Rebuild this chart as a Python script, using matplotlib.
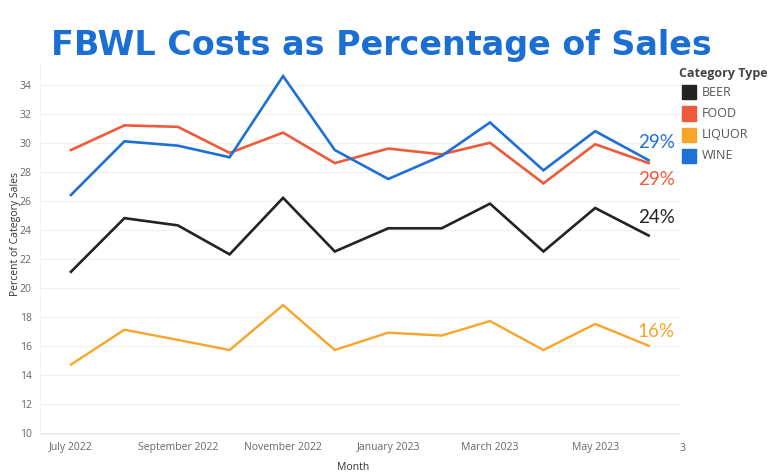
import matplotlib
matplotlib.use("Agg")
import matplotlib.pyplot as plt
import pandas as pd

# monthly values
months = ["2022-07-01", "2022-08-01", "2022-09-01", "2022-10-01", "2022-11-01", "2022-12-01",
          "2023-01-01", "2023-02-01", "2023-03-01", "2023-04-01", "2023-05-01", "2023-06-01"]
beer = [21.1, 24.8, 24.3, 22.3, 26.2, 22.5, 24.1, 24.1, 25.8, 22.5, 25.5, 23.6]
food = [29.5, 31.2, 31.1, 29.3, 30.7, 28.6, 29.6, 29.2, 30.0, 27.2, 29.9, 28.6]
liquor = [14.7, 17.1, 16.4, 15.7, 18.8, 15.7, 16.9, 16.7, 17.7, 15.7, 17.5, 16.0]
wine = [26.4, 30.1, 29.8, 29.0, 34.6, 29.5, 27.5, 29.1, 31.4, 28.1, 30.8, 28.8]
end_labels = ["24%", "29%", "16%", "29%"]
categories = ["BEER", "FOOD", "LIQUOR", "WINE"]
colors = ["#232323", "#ee5a3a", "#f8a52a", "#1e6fd6"]
tick_months = ["2022-07-01", "2022-09-01", "2022-11-01", "2023-01-01", "2023-03-01", "2023-05-01"]
tick_labels = ["July 2022", "September 2022", "November 2022", "January 2023", "March 2023", "May 2023"]

dates = pd.to_datetime(months)
series = [beer, food, liquor, wine]

fig = plt.figure(figsize=(7.68, 4.76), dpi=100)
ax = fig.add_axes([0.052, 0.088, 0.833, 0.778])

for vals, c, lab in zip(series, colors, categories):
    lw = 1.7 if lab == "LIQUOR" else 1.9
    ax.plot(dates, vals, color=c, lw=lw, solid_joinstyle="miter")

# end-of-line labels, sitting over / under the last point
offsets = [(5.5, 13), (5.5, -12), (5.5, 10.5), (5.5, 13)]
for vals, c, txt, off in zip(series, colors, end_labels, offsets):
    ax.annotate(txt, (dates[-1], vals[-1]), xytext=off, textcoords="offset points",
                color=c, fontsize=13.5, family="Lato", ha="center", va="center")

ax.set_ylim(9.9, 35.45)
ax.set_xlim(pd.Timestamp("2022-06-13"), pd.Timestamp("2023-06-19"))
ax.set_yticks(range(10, 35, 2))
ax.set_xticks(pd.to_datetime(tick_months))
ax.set_xticklabels(tick_labels)
ax.tick_params(axis="both", length=0, labelsize=7.5, labelcolor="#666666", pad=6)
for t in ax.get_xticklabels() + ax.get_yticklabels():
    t.set_family("Open Sans")
ax.grid(axis="y", color="#f0f0f0", lw=0.8)
ax.set_axisbelow(True)
for s in ["top", "right"]:
    ax.spines[s].set_visible(False)
ax.spines["left"].set_color("#f2f2f2")
ax.spines["bottom"].set_color("#ececec")

ax.set_xlabel("Month", fontsize=7.5, color="#333333", family="Open Sans")
ax.xaxis.set_label_coords(0.49, -0.075)
ax.set_ylabel("Percent of Category Sales", fontsize=7.5, color="#333333", family="Open Sans")
ax.yaxis.set_label_coords(-0.03, 0.54)

# clipped tick label at right edge
fig.text(0.885, 0.052, "3", fontsize=7.5, color="#666666", family="Open Sans", ha="left")

fig.text(0.497, 0.905, "FBWL Costs as Percentage of Sales", fontsize=24, fontweight="heavy",
         color="#1b6fd2", ha="center", va="center")

# legend
fig.text(0.884, 0.846, "Category Type", fontsize=9, fontweight="bold", color="#444444",
         family="Open Sans", va="center")
for i, (lab, c) in enumerate(zip(categories, colors)):
    y = 0.806 - i * 0.0445
    fig.patches.append(plt.Rectangle((0.888, y - 0.015), 0.018, 0.03, color=c,
                                     transform=fig.transFigure, figure=fig))
    fig.text(0.914, y, lab, fontsize=9, color="#555555", family="Open Sans", va="center")

fig.savefig("out.png", dpi=100)
